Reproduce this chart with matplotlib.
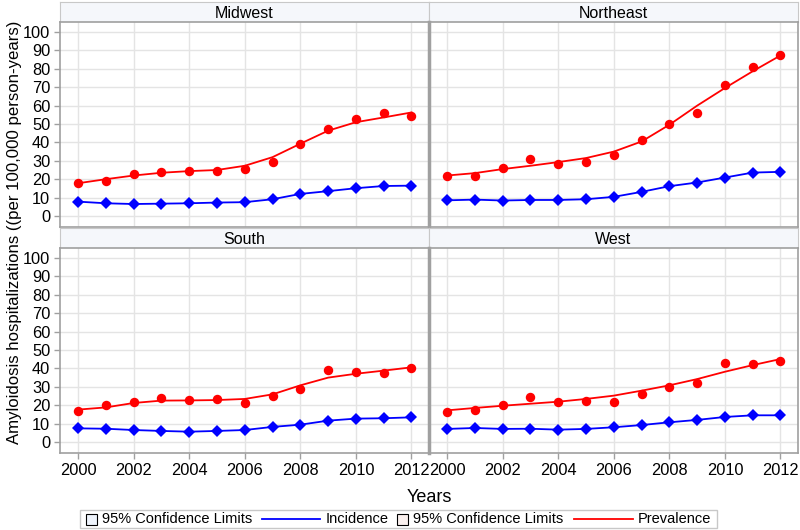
import matplotlib
matplotlib.use("Agg")
from matplotlib import pyplot as plt
from matplotlib.patches import Rectangle
from matplotlib.lines import Line2D

plt.rcParams['font.family'] = ['Liberation Sans', 'DejaVu Sans']

years = list(range(2000, 2013))
regions = ['Midwest', 'Northeast', 'South', 'West']

# observed prevalence (dots) and fitted prevalence (line)
prev_obs = {
    'Midwest':   [17.8, 19.1, 22.9, 23.8, 24.5, 24.6, 25.6, 29.3, 39.3, 47.1, 52.9, 55.8, 54.4],
    'Northeast': [21.5, 21.5, 26.2, 31.1, 28.4, 29.3, 32.9, 41.3, 50.2, 55.8, 71.5, 80.9, 87.6],
    'South':     [17.0, 20.0, 21.8, 23.7, 22.6, 23.4, 21.0, 25.0, 28.8, 39.0, 38.3, 37.7, 40.4],
    'West':      [16.3, 17.6, 20.1, 24.5, 21.6, 22.5, 21.6, 26.3, 29.7, 32.1, 43.0, 42.2, 44.2],
}
prev_fit = {
    'Midwest':   [17.8, 20.0, 22.0, 23.5, 24.4, 25.0, 27.3, 32.0, 39.3, 46.4, 51.0, 53.6, 56.3],
    'Northeast': [22.0, 23.3, 25.5, 27.3, 29.3, 31.5, 35.0, 40.5, 49.6, 60.0, 69.6, 78.7, 87.3],
    'South':     [17.6, 18.8, 21.2, 22.5, 22.6, 22.8, 23.4, 25.9, 30.8, 35.0, 37.1, 38.8, 40.6],
    'West':      [17.2, 18.5, 19.7, 20.8, 21.9, 23.4, 25.2, 27.9, 30.8, 34.2, 38.2, 41.8, 45.1],
}
incidence = {
    'Midwest':   [7.8, 6.9, 6.5, 6.7, 6.9, 7.3, 7.5, 9.1, 12.0, 13.5, 15.1, 16.3, 16.5],
    'Northeast': [8.5, 8.9, 8.4, 8.7, 8.7, 9.1, 10.4, 13.1, 16.2, 18.2, 20.9, 23.6, 24.0],
    'South':     [7.4, 7.2, 6.5, 6.0, 5.6, 6.0, 6.5, 8.2, 9.4, 11.6, 12.7, 12.9, 13.4],
    'West':      [7.1, 7.6, 7.1, 7.2, 6.7, 7.1, 8.0, 9.2, 10.7, 12.0, 13.6, 14.5, 14.5],
}

W, H = 800, 530
fig = plt.figure(figsize=(W / 100, H / 100), dpi=100)

frame_col = '#a0a0a0'
grid_col = '#e4e4e4'
tick_fs = 11.8

# pixel boxes: (left, right) columns and (header_top, plot_top, plot_bottom) rows
cols = [(60, 429), (429, 798)]
rows = [(2, 22, 227), (228, 248, 453)]


def px_box(x0, x1, y0, y1):
    return [x0 / W, 1 - y1 / H, (x1 - x0) / W, (y1 - y0) / H]


def fx(x):
    return x / W


def fy(y):
    return 1 - y / H


for i, region in enumerate(regions):
    r, c = divmod(i, 2)
    x0, x1 = cols[c]
    ht, pt, pb = rows[r]

    hax = fig.add_axes(px_box(x0, x1, ht, pt))
    hax.set_facecolor('#f5f7fb')
    hax.set_xticks([])
    hax.set_yticks([])
    for s in hax.spines.values():
        s.set_color('#c8c8c8')
    hax.text(0.5, 0.45, region, ha='center', va='center', fontsize=11.5,
             transform=hax.transAxes)

    ax = fig.add_axes(px_box(x0, x1, pt, pb))
    ax.plot(years, prev_fit[region], color='red', lw=1.3, zorder=3)
    ax.plot(years, prev_obs[region], 'o', color='red', ms=6.8, zorder=4,
            markeredgewidth=0)
    ax.plot(years, incidence[region], '-D', color='blue', lw=1.3, ms=6,
            markeredgewidth=0, zorder=4)

    ax.set_xlim(1999.35, 2012.63)
    ax.set_ylim(-6, 105.5)
    ax.set_xticks(range(2000, 2013, 2))
    ax.set_yticks(range(0, 101, 10))
    ax.grid(True, color=grid_col, lw=1)
    ax.set_axisbelow(True)
    ax.tick_params(colors=frame_col, labelcolor='black', labelsize=tick_fs,
                   length=4, width=1, pad=3)
    if c == 1:
        ax.tick_params(axis='y', labelleft=False, length=0)
    if r == 0:
        ax.tick_params(axis='x', labelbottom=False, length=0)
    for s in ax.spines.values():
        s.set_color(frame_col)
        s.set_linewidth(1.2)
    if c == 1:
        ax.spines['left'].set_linewidth(2.5)

fig.text(fx(15), fy(232), 'Amyloidosis hospitalizations ((per 100,000 person-years)',
         rotation=90, ha='center', va='center', fontsize=12.1)
fig.text(fx(429), fy(497), 'Years', ha='center', va='center', fontsize=13)

# legend drawn by hand so the boxes sit right against their text
leg_fs = 10.5
ly = 519
fig.add_artist(Rectangle((fx(80), fy(528)), fx(717) - fx(80), fy(510) - fy(528),
                         transform=fig.transFigure, facecolor='white',
                         edgecolor='#c8c8c8', lw=1))
entries = [
    ('box', '#eef3fb', 86, 97, 102, '95% Confidence Limits'),
    ('line', 'blue', 262, 320, 326, 'Incidence'),
    ('box', '#fbf1ef', 397, 408, 413, '95% Confidence Limits'),
    ('line', 'red', 574, 633, 638, 'Prevalence'),
]
for kind, col, a, b, tx, label in entries:
    if kind == 'box':
        fig.add_artist(Rectangle((fx(a), fy(ly + 5.5)), fx(b) - fx(a), fy(ly - 5.5) - fy(ly + 5.5),
                                 transform=fig.transFigure, facecolor=col,
                                 edgecolor='black', lw=0.8))
    else:
        fig.add_artist(Line2D([fx(a), fx(b)], [fy(ly), fy(ly)], color=col, lw=1.3,
                              transform=fig.transFigure))
    fig.text(fx(tx), fy(ly), label, ha='left', va='center', fontsize=leg_fs)

fig.savefig('out.png', dpi=100)
